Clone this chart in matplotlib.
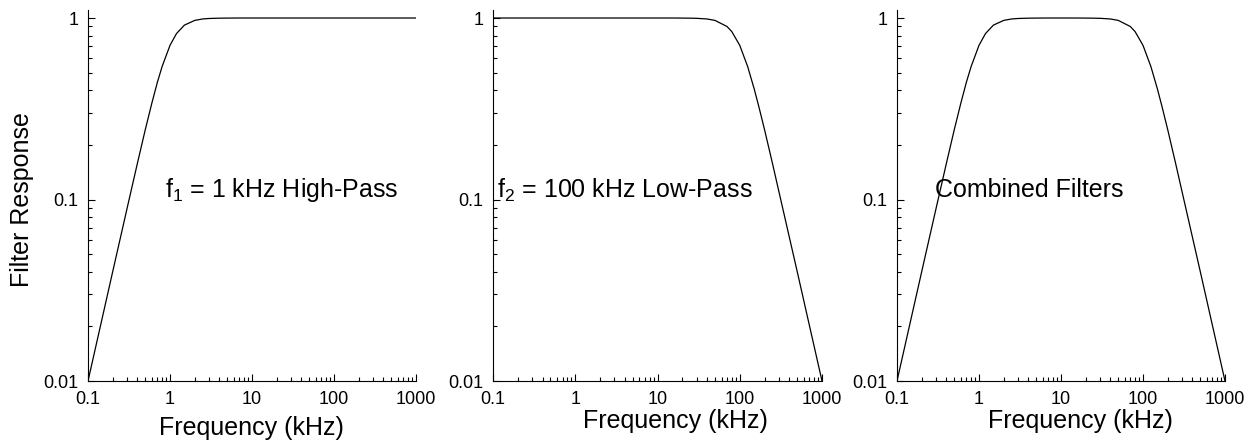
import matplotlib
matplotlib.use("Agg")
import matplotlib.pyplot as plt
from matplotlib.ticker import LogLocator, FixedLocator, FixedFormatter, NullFormatter

plt.rcParams['font.family'] = ['Liberation Sans', 'DejaVu Sans']
plt.rcParams['mathtext.fontset'] = 'custom'
plt.rcParams['mathtext.rm'] = 'Liberation Sans'
plt.rcParams['mathtext.it'] = 'Liberation Sans'

# Data
freq_khz = [0.1, 0.15, 0.2, 0.3, 0.4, 0.5, 0.6, 0.7, 0.8, 1, 1.2, 1.5, 2, 2.5, 3, 4, 5,
            7, 10, 15, 20, 25, 30, 40, 50, 70, 80, 100, 125, 150, 170, 200, 250, 300,
            500, 700, 1000]
high_pass = [0.01, 0.0225, 0.04, 0.0896, 0.158, 0.243, 0.339, 0.441, 0.539, 0.707,
             0.821, 0.914, 0.970, 0.988, 0.994, 0.998, 0.999,
             1.0, 1.0, 1.0, 1.0, 1.0, 1.0, 1.0, 1.0, 1.0, 1.0, 1.0, 1.0, 1.0, 1.0,
             1.0, 1.0, 1.0, 1.0, 1.0, 1.0]
low_pass = [1.0, 1.0, 1.0, 1.0, 1.0, 1.0, 1.0, 1.0, 1.0, 1.0,
            1.0, 1.0, 1.0, 1.0, 1.0, 1.0, 1.0, 1.0, 1.0, 1.0,
            0.999, 0.998, 0.996, 0.988, 0.970, 0.898, 0.842, 0.707, 0.539, 0.406,
            0.327, 0.243, 0.158, 0.110, 0.040, 0.0204, 0.01]
combined = [0.01, 0.0225, 0.04, 0.0896, 0.158, 0.243, 0.339, 0.441, 0.539, 0.707,
            0.821, 0.914, 0.970, 0.988, 0.994, 0.998, 0.999, 1.0, 1.0, 1.0,
            0.999, 0.998, 0.996, 0.988, 0.970, 0.898, 0.842, 0.707, 0.539, 0.406,
            0.327, 0.243, 0.158, 0.110, 0.040, 0.0204, 0.01]

series = [high_pass, low_pass, combined]
titles = [r'f$_1$ = 1 kHz High-Pass', r'f$_2$ = 100 kHz Low-Pass', 'Combined Filters']
title_pos = [(0.235, 0.515), (0.012, 0.515), (0.116, 0.515)]

x_ticks = [0.1, 1, 10, 100, 1000]
x_ticklabels = ['0.1', '1', '10', '100', '1000']
y_ticks = [0.01, 0.1, 1]
y_ticklabels = ['0.01', '0.1', '1']

W, H = 1256, 444
fig = plt.figure(figsize=(W / 100, H / 100), dpi=100)

lefts = [88, 493, 897]
widths = [328, 329, 328]
top_px, bot_px = 10.5, 381

xlabel_pos = [(251, 428), (675, 421), (1080, 421)]

for i in range(3):
    ax = fig.add_axes([lefts[i] / W, (H - bot_px) / H, widths[i] / W, (bot_px - top_px) / H])
    ax.plot(freq_khz, series[i], color='black', lw=0.9)
    ax.set_xscale('log')
    ax.set_yscale('log')
    ax.set_xlim(0.1, 1000)
    ax.set_ylim(0.01, 1.1)
    for s in ['top', 'right']:
        ax.spines[s].set_visible(False)
    for s in ['left', 'bottom']:
        ax.spines[s].set_linewidth(0.8)
    ax.xaxis.set_major_locator(FixedLocator(x_ticks))
    ax.xaxis.set_major_formatter(FixedFormatter(x_ticklabels))
    ax.yaxis.set_major_locator(FixedLocator(y_ticks))
    ax.yaxis.set_major_formatter(FixedFormatter(y_ticklabels))
    ax.xaxis.set_minor_locator(LogLocator(base=10, subs=range(2, 10), numticks=20))
    ax.yaxis.set_minor_locator(LogLocator(base=10, subs=range(2, 10), numticks=20))
    ax.xaxis.set_minor_formatter(NullFormatter())
    ax.yaxis.set_minor_formatter(NullFormatter())
    ax.tick_params(which='major', direction='in', length=5, width=0.8, labelsize=13)
    ax.tick_params(axis='x', which='major', pad=7)
    ax.tick_params(axis='y', which='major', pad=7)
    ax.tick_params(which='minor', direction='in', length=3, width=0.8)
    ax.text(title_pos[i][0], title_pos[i][1], titles[i], transform=ax.transAxes,
            ha='left', va='center', fontsize=18)
    fig.text(xlabel_pos[i][0] / W, 1 - xlabel_pos[i][1] / H, 'Frequency (kHz)',
             ha='center', va='center', fontsize=18)

fig.text(22 / W, 1 - 200 / H, 'Filter Response', rotation=90, ha='center', va='center',
         fontsize=18)

fig.savefig('out.png', dpi=100)
